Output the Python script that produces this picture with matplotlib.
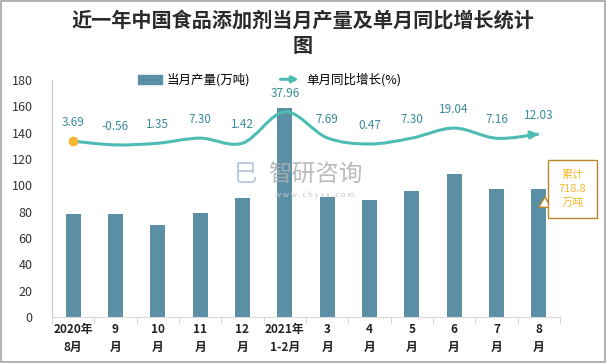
import matplotlib
matplotlib.use("Agg")
import matplotlib.pyplot as plt
from matplotlib.path import Path
from matplotlib.patches import PathPatch, FancyArrowPatch, Rectangle, Patch
from matplotlib.legend_handler import HandlerBase

plt.rcParams['font.family'] = ['Noto Sans CJK SC', 'DejaVu Sans']

# chart data
months = ["2020年\n8月", "9\n月", "10\n月", "11\n月", "12\n月", "2021年\n1-2月",
          "3\n月", "4\n月", "5\n月", "6\n月", "7\n月", "8\n月"]
output = [78.2, 78.0, 70.0, 79.0, 90.5, 158.5, 91.5, 89.0, 96.0, 108.6, 97.0, 97.2]
growth = [3.69, -0.56, 1.35, 7.30, 1.42, 37.96, 7.69, 0.47, 7.30, 19.04, 7.16, 12.03]
total_label = "累计\n718.8\n万吨"

bar_color = "#5b8fa6"
line_color = "#4dbdb3"
label_color = "#3a8c9c"


class ArrowHandler(HandlerBase):
    # legend handle: a line with an arrow head
    def create_artists(self, legend, orig_handle, xdescent, ydescent,
                       width, height, fontsize, trans):
        y = height / 2 - ydescent
        a = FancyArrowPatch((-xdescent, y), (-xdescent + width, y),
                            arrowstyle='-|>', mutation_scale=9, lw=2.2,
                            color=line_color, transform=trans)
        return [a]


fig = plt.figure(figsize=(6.06, 3.63), dpi=100)
ax = fig.add_axes([0.0858, 0.1267, 0.8382, 0.6529])
x = list(range(len(months)))

ax.bar(x, output, width=0.36, color=bar_color, zorder=2)
ax.set_xlim(-0.5, len(months) - 0.5)
ax.set_ylim(0, 180)
ax.set_yticks(range(0, 181, 20))
ax.set_xticks(x)
ax.set_xticklabels(months, fontsize=8.5, fontweight='bold', color='#222222', linespacing=1.5)
ax.set_xticks([i + 0.5 for i in range(-1, len(months))], minor=True)
ax.tick_params(axis='x', which='major', length=0, pad=4)
ax.tick_params(axis='x', which='minor', length=5, color='#d0d0d0')
ax.tick_params(axis='y', length=0, labelsize=9, labelcolor='#333333', pad=14)
for s in ['top', 'right']:
    ax.spines[s].set_visible(False)
ax.spines['left'].set_color('#c8c8c8')
ax.spines['bottom'].set_color('#d9d9d9')

# growth line on a hidden second axis
ax2 = ax.twinx()
ax2.set_ylim(-201, 75)
ax2.axis('off')

# smooth curve through the points (catmull-rom as bezier)
pts = list(zip(x, growth))
verts = [pts[0]]
codes = [Path.MOVETO]
for i in range(len(pts) - 1):
    p0 = pts[i - 1] if i > 0 else pts[i]
    p1 = pts[i]
    p2 = pts[i + 1]
    p3 = pts[i + 2] if i + 2 < len(pts) else pts[i + 1]
    c1 = (p1[0] + (p2[0] - p0[0]) / 6, p1[1] + (p2[1] - p0[1]) / 6)
    c2 = (p2[0] - (p3[0] - p1[0]) / 6, p2[1] - (p3[1] - p1[1]) / 6)
    verts += [c1, c2, p2]
    codes += [Path.CURVE4] * 3
ax2.add_patch(PathPatch(Path(verts, codes), fill=False, ec=line_color, lw=2.2, zorder=3))
ax2.annotate('', xy=pts[-1], xytext=c2,
             arrowprops=dict(arrowstyle='-|>', color=line_color, lw=2.2, mutation_scale=11,
                             shrinkA=0, shrinkB=0))
ax2.plot(x[0], growth[0], 'o', color='#f5b731', ms=6, zorder=4)

for xi, g in zip(x, growth):
    ax2.annotate(f"{g:.2f}", (xi, g), textcoords='offset pixels', xytext=(0, 12),
                 ha='center', va='bottom', fontsize=8.5, color=label_color)

# callout for the total
ax.annotate(total_label, xy=(x[-1], 83.5), textcoords='offset pixels', xytext=(34, 18),
            ha='center', va='center', fontsize=8, color='#f5b731', linespacing=1.45,
            bbox=dict(boxstyle='square,pad=0.95', fc='white', ec='#b8862b', lw=1),
            arrowprops=dict(arrowstyle='wedge,tail_width=1.1', fc='white', ec='#b8862b',
                            lw=1, shrinkA=0, shrinkB=0),
            zorder=5)

# watermark
fig.text(0.52, 0.518, "智研咨询", fontsize=17, color='#b0b0b0', ha='center', va='center', alpha=0.85)
fig.text(0.52, 0.462, "w w w . c h y x x . c o m", fontsize=5.5, color='#c8c8c8', ha='center', va='center')
fig.text(0.405, 0.518, "巳", fontsize=17, color='#a9b8d6', ha='center', va='center', alpha=0.8)

fig.suptitle("近一年中国食品添加剂当月产量及单月同比增长统计\n图", x=0.5, y=0.975,
             fontsize=14.5, fontweight='bold', color='#2b2b2b', linespacing=1.3)

handles = [Patch(color=bar_color), Patch(color=line_color)]
fig.legend(handles, ["当月产量(万吨)", "单月同比增长(%)"], loc='center', bbox_to_anchor=(0.445, 0.78),
           ncol=2, frameon=False, fontsize=9, handlelength=1.9, handleheight=0.7,
           columnspacing=2.2, handletextpad=0.4,
           handler_map={handles[1]: ArrowHandler()})

fig.add_artist(Rectangle((0.001, 0.002), 0.997, 0.996, transform=fig.transFigure,
                         fill=False, ec='#a6a6a6', lw=1.2))

fig.savefig("out.png", dpi=100)
